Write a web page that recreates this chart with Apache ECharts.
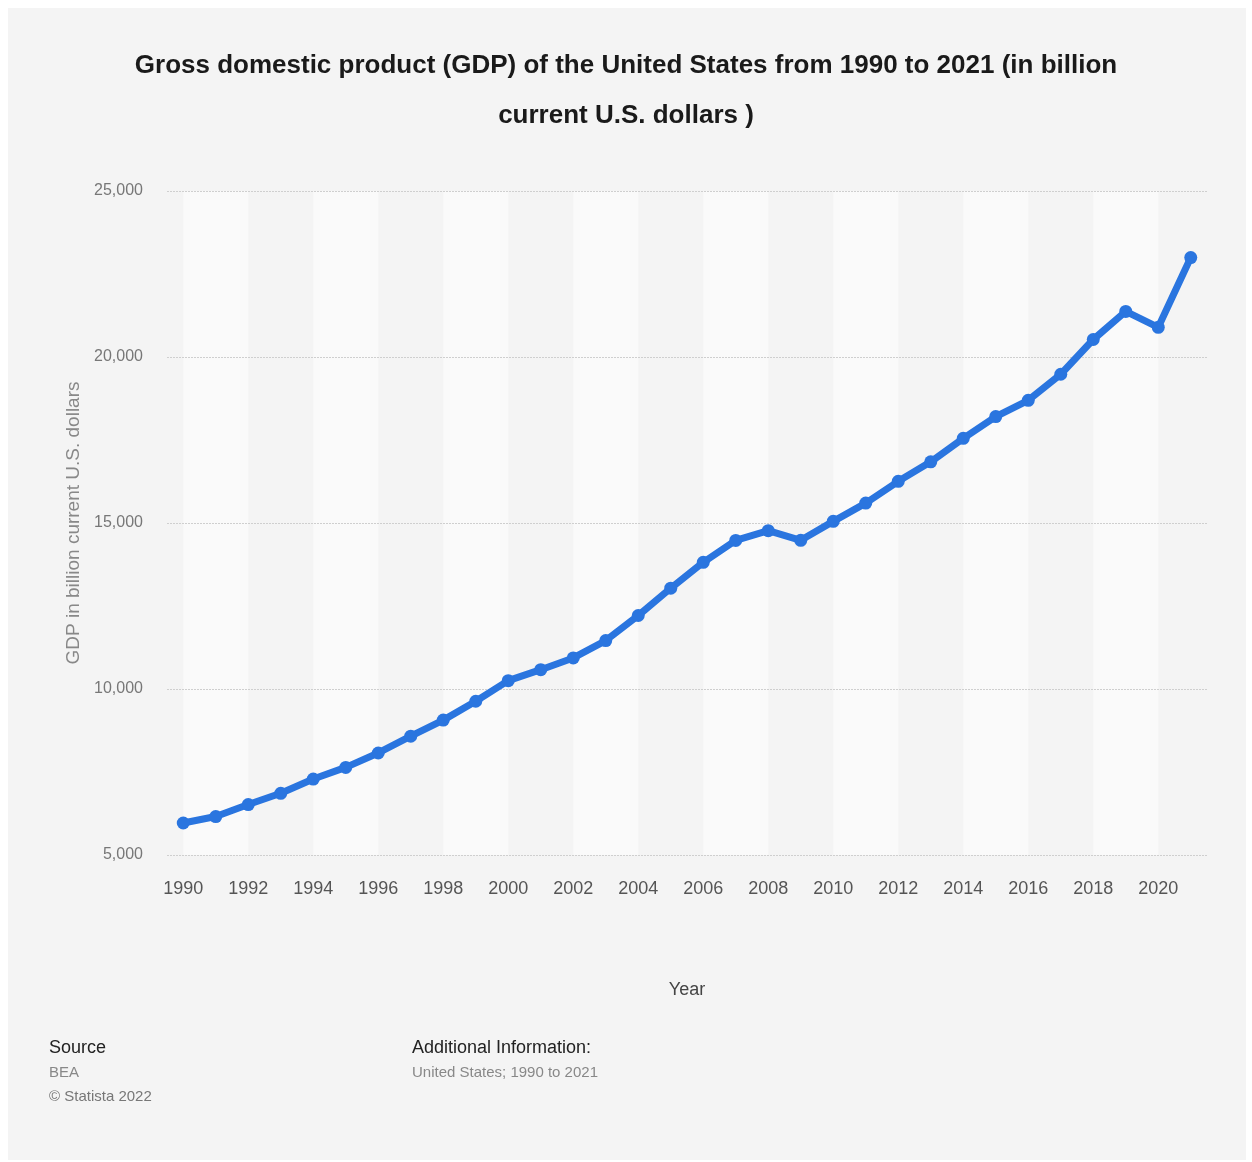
<!DOCTYPE html>
<html>
<head>
<meta charset="utf-8">
<script src="https://cdn.jsdelivr.net/npm/echarts@6/dist/echarts.min.js"></script>
<style>
  html, body { margin: 0; padding: 0; background: #fff; }
  #chart1 { width: 1252px; height: 1162px; }
</style>
</head>
<body>
<div id="chart1"></div>
<script>
const years = ['1990','1991','1992','1993','1994','1995','1996','1997','1998','1999',
    '2000','2001','2002','2003','2004','2005','2006','2007','2008','2009',
    '2010','2011','2012','2013','2014','2015','2016','2017','2018','2019','2020','2021'];
const gdp = [5963, 6158, 6520, 6859, 7287, 7639, 8073, 8578, 9063, 9631,
    10251, 10582, 10936, 11458, 12214, 13037, 13815, 14475, 14770, 14478,
    15049, 15600, 16254, 16843, 17551, 18206, 18695, 19480, 20527, 21373, 20894, 22996];
// lighter background bands, from year to year
const bands = [['1990','1992'],['1994','1996'],['1998','2000'],['2002','2004'],
    ['2006','2008'],['2010','2012'],['2014','2016'],['2018','2020']];

const font = '"Liberation Sans", Arial, sans-serif';
const chart = echarts.init(document.getElementById('chart1'));

const option = {
    backgroundColor: '#fff',
    animation: false,
    title: {
        text: 'Gross domestic product (GDP) of the United States from 1990 to 2021 (in billion\ncurrent U.S. dollars )',
        left: 'center',
        top: 36,
        textStyle: {
            fontFamily: font,
            fontSize: 26,
            fontWeight: 'bold',
            color: '#1a1a1a',
            lineHeight: 50
        }
    },
    graphic: [
        { type: 'rect', z: -100, silent: true, shape: { x: 8, y: 8, width: 1238, height: 1152 }, style: { fill: '#f4f4f4' } },
        { type: 'text', left: 49, top: 1039, style: { text: 'Source', fontFamily: font, fontSize: 18, fill: '#222' } },
        { type: 'text', left: 49, top: 1065, style: { text: 'BEA', fontFamily: font, fontSize: 15, fill: '#888' } },
        { type: 'text', left: 49, top: 1089, style: { text: '© Statista 2022', fontFamily: font, fontSize: 15, fill: '#777' } },
        { type: 'text', left: 412, top: 1039, style: { text: 'Additional Information:', fontFamily: font, fontSize: 18, fill: '#222' } },
        { type: 'text', left: 412, top: 1065, style: { text: 'United States; 1990 to 2021', fontFamily: font, fontSize: 15, fill: '#888' } }
    ],
    grid: { left: 167, right: 45, top: 191, bottom: 307 },
    xAxis: {
        type: 'category',
        data: years,
        boundaryGap: true,
        name: 'Year',
        nameLocation: 'middle',
        nameGap: 126,
        nameTextStyle: { fontFamily: font, fontSize: 18, color: '#444' },
        axisLine: { show: false },
        axisTick: { show: false },
        axisLabel: { interval: 1, margin: 25, fontFamily: font, fontSize: 18, color: '#555' },
        splitLine: { show: false }
    },
    yAxis: {
        type: 'value',
        min: 5000,
        max: 25000,
        interval: 5000,
        name: 'GDP in billion current U.S. dollars',
        nameLocation: 'middle',
        nameGap: 83,
        nameTextStyle: { fontFamily: font, fontSize: 19, color: '#888' },
        axisLine: { show: false },
        axisTick: { show: false },
        axisLabel: {
            margin: 24,
            fontFamily: font,
            fontSize: 16,
            color: '#777',
            formatter: v => v.toLocaleString('en-US')
        },
        splitLine: { lineStyle: { color: '#cfcfcf', type: [2, 1], width: 1 } }
    },
    series: [
        {
            // background bands only, drawn under the grid lines
            name: 'bands',
            type: 'line',
            data: [],
            z: -5,
            silent: true,
            markArea: {
                silent: true,
                z: -5,
                itemStyle: { color: '#fafafa' },
                data: bands.map(b => [{ xAxis: b[0] }, { xAxis: b[1] }])
            }
        },
        {
            name: 'GDP',
            type: 'line',
            data: gdp,
            symbol: 'circle',
            symbolSize: 13,
            lineStyle: { width: 7, color: '#2a75df' },
            itemStyle: { color: '#2a75df' }
        }
    ]
};

chart.setOption(option);
window.addEventListener('resize', function () { chart.resize(); });
</script>
</body>
</html>
